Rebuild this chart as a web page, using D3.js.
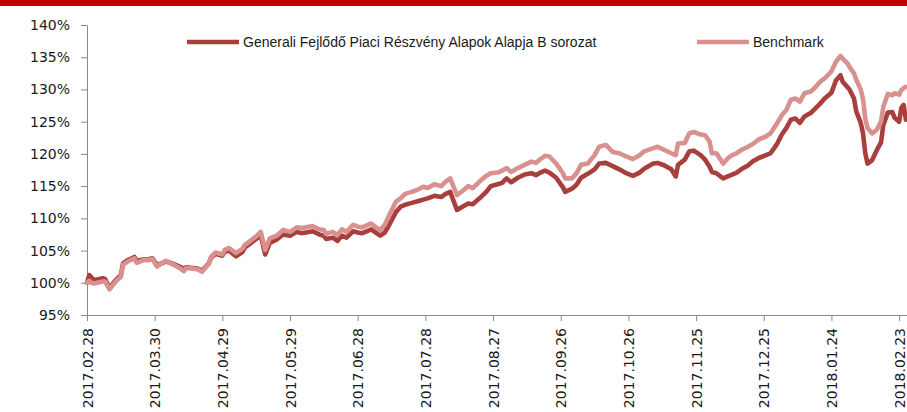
<!DOCTYPE html>
<html>
<head>
<meta charset="utf-8">
<script src="https://cdn.jsdelivr.net/npm/d3@7"></script>
<style>
  html, body { margin: 0; padding: 0; background: #ffffff; }
  svg { display: block; }
</style>
</head>
<body>
<svg id="chart" width="907" height="412"></svg>
<script>
// Observation dates (daily closing values, sampled)
const dates = [
  "2017.02.28","2017.03.01","2017.03.02","2017.03.03","2017.03.07","2017.03.08","2017.03.10","2017.03.13","2017.03.15","2017.03.16",
  "2017.03.18","2017.03.21","2017.03.22","2017.03.25","2017.03.27","2017.03.29","2017.03.31","2017.04.02","2017.04.04","2017.04.06",
  "2017.04.08","2017.04.10","2017.04.12","2017.04.13","2017.04.16","2017.04.18","2017.04.20","2017.04.23","2017.04.24","2017.04.26",
  "2017.04.29","2017.04.30","2017.05.02","2017.05.05","2017.05.08","2017.05.09","2017.05.11","2017.05.14","2017.05.16","2017.05.18",
  "2017.05.20","2017.05.23","2017.05.26","2017.05.29","2017.06.01","2017.06.03","2017.06.05","2017.06.08","2017.06.11","2017.06.13",
  "2017.06.14","2017.06.17","2017.06.19","2017.06.21","2017.06.23","2017.06.26","2017.06.28","2017.06.30","2017.07.04","2017.07.06",
  "2017.07.08","2017.07.10","2017.07.12","2017.07.15","2017.07.17","2017.07.19","2017.07.22","2017.07.25","2017.07.27","2017.07.29",
  "2017.08.01","2017.08.04","2017.08.06","2017.08.08","2017.08.11","2017.08.14","2017.08.16","2017.08.18","2017.08.21","2017.08.24",
  "2017.08.26","2017.08.29","2017.08.31","2017.09.02","2017.09.04","2017.09.07","2017.09.10","2017.09.13","2017.09.15","2017.09.17",
  "2017.09.19","2017.09.21","2017.09.24","2017.09.27","2017.09.28","2017.10.01","2017.10.03","2017.10.05","2017.10.08","2017.10.11",
  "2017.10.13","2017.10.16","2017.10.19","2017.10.22","2017.10.25","2017.10.28","2017.10.31","2017.11.02","2017.11.06","2017.11.08",
  "2017.11.11","2017.11.14","2017.11.16","2017.11.17","2017.11.20","2017.11.22","2017.11.24","2017.11.27","2017.11.29","2017.12.01",
  "2017.12.02","2017.12.04","2017.12.07","2017.12.09","2017.12.11","2017.12.13","2017.12.15","2017.12.18","2017.12.20","2017.12.23",
  "2017.12.26","2017.12.28","2017.12.31","2018.01.02","2018.01.04","2018.01.06","2018.01.08","2018.01.10","2018.01.12","2018.01.15",
  "2018.01.17","2018.01.19","2018.01.21","2018.01.24","2018.01.26","2018.01.28","2018.01.29","2018.01.31","2018.02.01","2018.02.03",
  "2018.02.04","2018.02.06","2018.02.07","2018.02.08","2018.02.09","2018.02.11","2018.02.13","2018.02.15","2018.02.16","2018.02.18",
  "2018.02.20","2018.02.21","2018.02.23","2018.02.24","2018.02.25","2018.02.26"
];

// Fund performance, indexed to 100% at the start date
const fundValues = [
  100.0,101.2,100.8,100.4,100.7,100.6,99.2,100.5,101.2,103.0,
  103.5,104.0,103.4,103.6,103.6,103.8,102.8,103.0,103.3,103.1,
  102.8,102.5,102.2,102.4,102.3,102.2,101.9,103.0,103.9,104.5,
  104.2,104.8,105.0,104.1,104.8,105.5,106.0,106.8,107.4,104.4,
  106.2,106.7,107.5,107.3,107.9,107.7,107.8,108.0,107.5,107.3,
  106.8,107.0,106.5,107.3,107.0,108.0,107.8,107.7,108.3,107.8,
  107.3,107.8,109.0,111.0,111.8,112.1,112.4,112.7,112.9,113.1,
  113.5,113.3,113.8,114.1,111.3,111.9,112.3,112.2,113.1,114.1,
  115.0,115.3,115.5,116.2,115.6,116.3,116.8,117.0,116.7,117.1,
  117.4,117.1,116.3,114.8,114.1,114.6,115.2,116.3,116.9,117.6,
  118.5,118.6,118.1,117.6,117.0,116.6,117.1,117.7,118.5,118.6,
  118.2,117.6,116.5,118.3,119.1,120.4,120.5,119.8,119.1,118.0,
  117.2,117.0,116.2,116.5,116.8,117.1,117.6,118.2,118.8,119.4,
  119.8,120.1,121.6,123.0,124.0,125.3,125.5,124.8,125.8,126.4,
  127.1,127.8,128.6,129.5,131.4,132.2,131.2,130.4,130.0,128.6,
  126.6,124.8,123.2,120.1,118.5,119.0,120.5,121.8,124.5,126.4,
  126.5,125.6,125.0,127.1,127.6,125.3
];

// Benchmark performance, indexed to 100% at the start date
const benchmarkValues = [
  100.0,100.3,100.0,99.9,100.2,100.2,99.0,100.3,100.9,102.8,
  103.3,103.8,103.1,103.5,103.5,103.7,102.5,103.0,103.4,103.0,
  102.7,102.3,101.8,102.3,102.2,102.1,101.7,103.0,104.0,104.7,
  104.4,105.1,105.4,104.6,105.3,105.9,106.4,107.2,107.9,105.1,
  106.9,107.3,108.2,107.9,108.6,108.5,108.6,108.8,108.3,108.2,
  107.6,107.9,107.4,108.3,107.9,109.0,108.7,108.6,109.2,108.6,
  108.2,109.0,110.5,112.6,113.1,113.8,114.1,114.5,114.9,114.7,
  115.3,115.0,115.7,116.2,113.6,114.4,115.0,114.7,115.7,116.6,
  117.0,117.1,117.4,117.8,117.2,117.8,118.3,118.8,118.6,119.2,
  119.7,119.6,118.5,117.0,116.2,116.2,117.0,118.3,118.5,119.8,
  121.1,121.4,120.3,120.1,119.6,119.2,119.8,120.4,120.9,121.1,
  120.6,120.1,119.8,121.6,121.7,123.2,123.4,123.0,122.9,121.9,
  120.1,120.1,118.5,119.3,119.8,120.1,120.6,121.1,121.5,122.3,
  122.7,123.2,124.8,126.0,126.8,128.4,128.6,128.1,129.4,129.7,
  130.4,131.2,131.7,132.8,134.3,135.2,134.8,134.1,133.5,132.5,
  131.5,130.0,128.5,125.5,124.0,123.2,123.7,125.0,127.3,129.3,
  129.1,129.4,129.2,129.9,130.2,130.4
];

const seriesNames = ["Generali Fejlődő Piaci Részvény Alapok Alapja B sorozat", "Benchmark"];

// Axis ticks
const xTickLabels = [
  "2017.02.28","2017.03.30","2017.04.29","2017.05.29","2017.06.28","2017.07.28","2017.08.27",
  "2017.09.26","2017.10.26","2017.11.25","2017.12.25","2018.01.24","2018.02.23"
];
const yTickValues = [95, 100, 105, 110, 115, 120, 125, 130, 135, 140];

const parseDate = d3.utcParse("%Y.%m.%d");
const formatDate = d3.utcFormat("%Y.%m.%d");

const svg = d3.select("#chart");
const W = 907, H = 412;

const fundColor = "#a83f3c";
const benchColor = "#d9918f";
const axisColor = "#8a8a8a";
const textColor = "#1a1a1a";
const lineWidth = 4.6;

// Header band
svg.append("rect")
  .attr("x", 0).attr("y", 0)
  .attr("width", W).attr("height", 6)
  .attr("fill", "#c00000");

// Scales
const xStart = parseDate(xTickLabels[0]);
const xEnd = d3.utcHour.offset(parseDate("2018.02.26"), 12);
const x = d3.scaleUtc().domain([xStart, xEnd]).range([87, 907]);
const y = d3.scaleLinear().domain([95, 140]).range([315, 25]);

// Y axis
const yAxis = svg.append("g")
  .attr("transform", `translate(${x.range()[0]},0)`)
  .call(d3.axisLeft(y)
    .tickValues(yTickValues)
    .tickFormat(d => d + "%")
    .tickSize(6)
    .tickSizeOuter(0)
    .tickPadding(11));
yAxis.selectAll("path, line").attr("stroke", axisColor);
yAxis.selectAll("text")
  .attr("fill", textColor)
  .style("font-family", "'DejaVu Sans', sans-serif")
  .style("font-size", "14px");

// X axis
const xAxis = svg.append("g")
  .attr("transform", `translate(0,${y.range()[0]})`)
  .call(d3.axisBottom(x)
    .tickValues(xTickLabels.map(parseDate))
    .tickFormat(formatDate)
    .tickSize(6)
    .tickSizeOuter(0));
xAxis.selectAll("path, line").attr("stroke", axisColor);
xAxis.selectAll("text")
  .attr("fill", textColor)
  .style("font-family", "'DejaVu Sans', sans-serif")
  .style("font-size", "14px")
  .attr("text-anchor", "end")
  .attr("transform", "rotate(-90)")
  .attr("x", -13)
  .attr("y", 0)
  .attr("dy", "0.36em");

// Series lines (benchmark drawn last, on top)
const rows = dates.map((d, i) => ({
  date: parseDate(d),
  fund: fundValues[i],
  bench: benchmarkValues[i]
}));

const lineFund = d3.line().x(d => x(d.date)).y(d => y(d.fund));
const lineBench = d3.line().x(d => x(d.date)).y(d => y(d.bench));

svg.append("path")
  .datum(rows)
  .attr("fill", "none")
  .attr("stroke", fundColor)
  .attr("stroke-width", lineWidth)
  .attr("stroke-linejoin", "round")
  .attr("stroke-linecap", "round")
  .attr("d", lineFund);

svg.append("path")
  .datum(rows)
  .attr("fill", "none")
  .attr("stroke", benchColor)
  .attr("stroke-width", lineWidth)
  .attr("stroke-linejoin", "round")
  .attr("stroke-linecap", "round")
  .attr("d", lineBench);

// Legend
const legend = svg.append("g").attr("class", "legend");
const legendItems = [
  { name: seriesNames[0], color: fundColor, x0: 187 },
  { name: seriesNames[1], color: benchColor, x0: 697 }
];
legendItems.forEach(item => {
  legend.append("line")
    .attr("x1", item.x0).attr("x2", item.x0 + 52)
    .attr("y1", 42).attr("y2", 42)
    .attr("stroke", item.color)
    .attr("stroke-width", lineWidth);
  legend.append("text")
    .attr("x", item.x0 + 56)
    .attr("y", 42)
    .attr("dy", "0.35em")
    .attr("fill", textColor)
    .style("font-family", "'Liberation Sans', Arial, sans-serif")
    .style("font-size", "14px")
    .text(item.name);
});
</script>
</body>
</html>
